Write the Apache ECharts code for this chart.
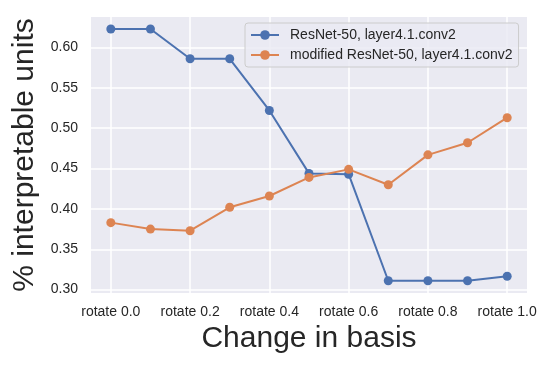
<!DOCTYPE html>
<html>
<head>
<meta charset="utf-8">
<script src="https://cdn.jsdelivr.net/npm/echarts@6/dist/echarts.min.js"></script>
<style>
  html, body { margin: 0; padding: 0; background: #fff; }
</style>
</head>
<body>
<div id="chart" style="width: 554px; height: 369px;"></div>
<script>
// x categories and what each series measured there
const categories = ['rotate 0.0', 'rotate 0.1', 'rotate 0.2', 'rotate 0.3', 'rotate 0.4', 'rotate 0.5',
  'rotate 0.6', 'rotate 0.7', 'rotate 0.8', 'rotate 0.9', 'rotate 1.0']
const resnet = [0.623, 0.623, 0.586, 0.586, 0.522, 0.444, 0.443, 0.311, 0.311, 0.311, 0.3165]
const modified = [0.383, 0.375, 0.373, 0.402, 0.416, 0.439, 0.449, 0.430, 0.467, 0.482, 0.513]
const xTicks = [0, 2, 4, 6, 8, 10]
const yTicks = [0.30, 0.35, 0.40, 0.45, 0.50, 0.55, 0.60]

const font = "'Liberation Sans', Arial, sans-serif"
const textColor = '#262626'

const chart = echarts.init(document.getElementById('chart'))

const toPoints = (arr) => arr.map((v, i) => [i, v])

const option = {
  animation: false,
  textStyle: { fontFamily: font },
  grid: {
    left: 91,
    right: 27,
    top: 17,
    bottom: 76,
    show: true,
    backgroundColor: '#EAEAF2',
    borderWidth: 0
  },
  legend: {
    orient: 'vertical',
    left: 245,
    top: 23,
    padding: [5, 6, 5, 5],
    itemGap: 6,
    itemWidth: 28,
    itemHeight: 12,
    backgroundColor: 'rgba(234,234,242,0.8)',
    borderColor: '#cccccc',
    borderWidth: 1,
    borderRadius: 3,
    textStyle: { fontSize: 14, color: textColor, fontFamily: font, padding: [0, 0, 0, 6] },
    data: ['ResNet-50, layer4.1.conv2', 'modified ResNet-50, layer4.1.conv2']
  },
  xAxis: {
    type: 'value',
    min: -0.5,
    max: 10.5,
    name: 'Change in basis',
    nameLocation: 'middle',
    nameGap: 27,
    nameTextStyle: { fontSize: 30, color: textColor, fontFamily: font },
    axisLine: { show: false },
    axisTick: { show: false, customValues: xTicks },
    axisLabel: {
      customValues: xTicks,
      fontSize: 14,
      color: textColor,
      margin: 12,
      formatter: (v) => categories[Math.round(v)]
    },
    splitLine: { show: true, lineStyle: { color: '#ffffff', width: 1.5 } }
  },
  yAxis: {
    type: 'value',
    min: 0.2958,
    max: 0.6378,
    name: '% interpretable units',
    nameLocation: 'middle',
    nameGap: 42,
    nameTextStyle: { fontSize: 30, color: textColor, fontFamily: font },
    axisLine: { show: false },
    axisTick: { show: false, customValues: yTicks },
    axisLabel: {
      customValues: yTicks,
      fontSize: 14,
      color: textColor,
      margin: 13,
      formatter: (v) => v.toFixed(2)
    },
    splitLine: { show: true, lineStyle: { color: '#ffffff', width: 1.5 } }
  },
  series: [
    {
      name: 'ResNet-50, layer4.1.conv2',
      type: 'line',
      data: toPoints(resnet),
      symbol: 'circle',
      symbolSize: 9,
      itemStyle: { color: '#4C72B0' },
      lineStyle: { color: '#4C72B0', width: 2 }
    },
    {
      name: 'modified ResNet-50, layer4.1.conv2',
      type: 'line',
      data: toPoints(modified),
      symbol: 'circle',
      symbolSize: 9,
      itemStyle: { color: '#DD8452' },
      lineStyle: { color: '#DD8452', width: 2 }
    }
  ]
}

chart.setOption(option)
</script>
</body>
</html>
